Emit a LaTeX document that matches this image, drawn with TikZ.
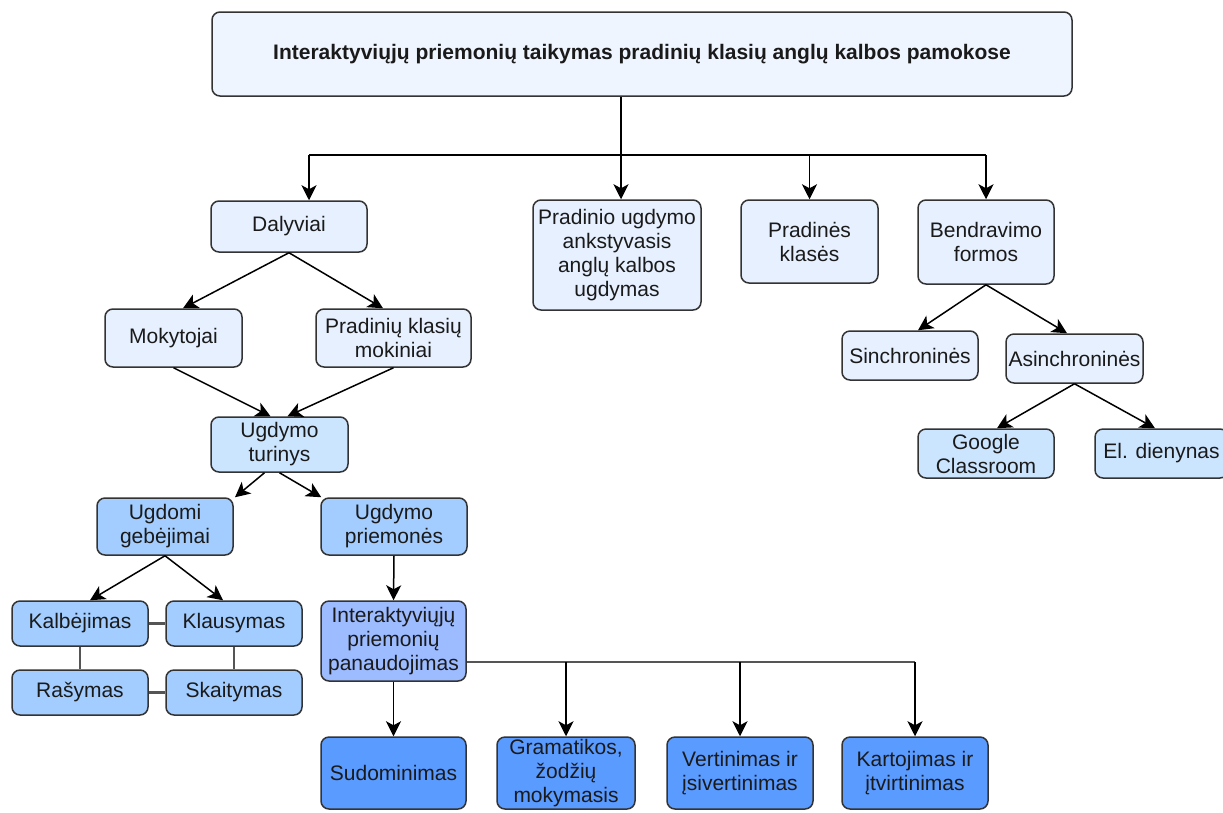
\documentclass[tikz,border=0pt]{standalone}
\usepackage{fontspec}
\setmainfont{Liberation Sans}
\usetikzlibrary{arrows.meta}

\definecolor{edge}{HTML}{333333}
\definecolor{txt}{HTML}{1A1A1A}
\definecolor{linkgray}{HTML}{555555}
\definecolor{fillTop}{HTML}{EFF5FE}
\definecolor{fillA}{HTML}{E6F0FE}
\definecolor{fillB}{HTML}{CCE5FF}
\definecolor{fillC}{HTML}{A3CDFF}
\definecolor{fillD}{HTML}{9DBBFF}
\definecolor{fillE}{HTML}{5A9BFF}

\begin{document}
\begin{tikzpicture}[x=1pt,y=-1pt,
  box/.style={draw=edge, line width=1.5pt, rounded corners=8pt, align=center,
    inner sep=0pt, text=txt, font=\fontsize{21}{24}\selectfont},
  arr/.style={draw=black, line width=1.5pt,
    -{Stealth[length=15pt,width=15pt,inset=4pt]}},
  bus/.style={draw=black, line width=1.5pt},
  link/.style={draw=linkgray, line width=2.2pt}]

\useasboundingbox (0,0) rectangle (1223,812);
\clip (0,0) rectangle (1223,812);
\fill[white] (0,0) rectangle (1223,812);

% title
\node[box, fill=fillTop, minimum width=860pt, minimum height=84pt,
  font={\fontsize{21}{24}\selectfont\bfseries}] (top) at (642,54)
  {Interaktyviųjų priemonių taikymas pradinių klasių anglų kalbos pamokose};

% second level
\node[box, fill=fillA, minimum width=156pt, minimum height=51pt] (dal) at (289,226.5) {Dalyviai};
\node[box, fill=fillA, minimum width=168pt, minimum height=110pt] (pug) at (617,255)
  {Pradinio ugdymo\\ankstyvasis\\anglų kalbos\\ugdymas};
\node[box, fill=fillA, minimum width=137pt, minimum height=83pt] (pkl) at (809.5,241.5) {Pradinės\\klasės};
\node[box, fill=fillA, minimum width=136pt, minimum height=84pt] (ben) at (986,242) {Bendravimo\\formos};

% participants
\node[box, fill=fillA, minimum width=137pt, minimum height=58pt] (mok) at (173.5,338) {Mokytojai};
\node[box, fill=fillA, minimum width=155pt, minimum height=58pt] (pkm) at (393.5,338) {Pradinių klasių\\mokiniai};
\node[box, fill=fillB, minimum width=137pt, minimum height=55pt] (ut) at (279.5,444.5) {Ugdymo\\turinys};
\node[box, fill=fillC, minimum width=136pt, minimum height=57pt] (ug) at (165,526.5) {Ugdomi\\gebėjimai};
\node[box, fill=fillC, minimum width=146pt, minimum height=57pt] (up) at (394,526.5) {Ugdymo\\priemonės};

% skills
\node[box, fill=fillC, minimum width=136pt, minimum height=45pt] (kal) at (80,623.5) {Kalbėjimas};
\node[box, fill=fillC, minimum width=136pt, minimum height=45pt] (kla) at (234,623.5) {Klausymas};
\node[box, fill=fillC, minimum width=136pt, minimum height=45pt] (ras) at (80,692.5) {Rašymas};
\node[box, fill=fillC, minimum width=136pt, minimum height=45pt] (ska) at (234,692.5) {Skaitymas};

% use of interactive tools
\node[box, fill=fillD, minimum width=145pt, minimum height=80pt] (iap) at (393.5,641)
  {Interaktyviųjų\\priemonių\\panaudojimas};
\node[box, fill=fillE, minimum width=145pt, minimum height=72pt] (sud) at (393.5,773) {Sudominimas};
\node[box, fill=fillE, minimum width=138pt, minimum height=72pt] (gra) at (566,773) {Gramatikos,\\žodžių\\mokymasis};
\node[box, fill=fillE, minimum width=146pt, minimum height=72pt] (ver) at (740,773) {Vertinimas ir\\įsivertinimas};
\node[box, fill=fillE, minimum width=146pt, minimum height=72pt] (kar) at (915,773) {Kartojimas ir\\įtvirtinimas};

% communication forms
\node[box, fill=fillA, minimum width=136pt, minimum height=49pt] (sin) at (910,355.5) {Sinchroninės};
\node[box, fill=fillA, minimum width=137pt, minimum height=49pt] (asi) at (1074.5,358.5) {Asinchroninės};
\node[box, fill=fillB, minimum width=136pt, minimum height=49pt] (goo) at (986,453.5) {Google\\Classroom};
\node[box, fill=fillB, minimum width=133pt, minimum height=49pt] (eld) at (1161.5,453.5) {El. dienynas};

% top distribution line
\coordinate (t1) at (309,155);
\coordinate (t2) at (986,155);
\draw[bus] (t1) -- (t2);
\draw[arr] ([xshift=-21pt]top.south) -- ([xshift=4pt]pug.north);
\draw[arr] (t1) -- (t1 |- dal.north);
\draw[arr] (pkl.north |- t1) -- (pkl.north);
\draw[arr] (t2) -- (ben.north);

% participants branch
\draw[arr] (dal.south) -- ([xshift=9.5pt]mok.north);
\draw[arr] (dal.south) -- ([xshift=-10.5pt]pkm.north);
\draw[arr] (mok.south) -- ([xshift=-9pt]ut.north);
\draw[arr] (pkm.south) -- ([xshift=8pt]ut.north);
\draw[arr] ([xshift=-15pt]ut.south) -- ([xshift=70pt]ug.north);
\draw[arr] (ut.south) -- ([xshift=1pt]up.north west);
\draw[arr] (ug.south) -- ([xshift=10pt]kal.north);
\draw[arr] (ug.south) -- ([xshift=-11pt]kla.north);
\draw[arr] (up.south) -- (iap.north);

% links between skills
\draw[link] (kal.east) -- (kla.west);
\draw[link] (ras.east) -- (ska.west);
\draw[link] (kal.south) -- (ras.north);
\draw[link] (kla.south) -- (ska.north);

% tools branch
\coordinate (b2) at (915,662);
\draw[arr] (iap.south) -- (sud.north);
\draw[bus, draw=linkgray] ([yshift=-21pt]iap.east) -- (b2);
\draw[arr] (gra.north |- b2) -- (gra.north);
\draw[arr] (ver.north |- b2) -- (ver.north);
\draw[arr] (b2) -- (kar.north);

% communication branch
\draw[arr] (ben.south) -- ([xshift=8pt]sin.north);
\draw[arr] (ben.south) -- ([xshift=-7.5pt]asi.north);
\draw[arr] (asi.south) -- ([xshift=11pt]goo.north);
\draw[arr] (asi.south) -- ([xshift=-6.5pt]eld.north);

\end{tikzpicture}
\end{document}
